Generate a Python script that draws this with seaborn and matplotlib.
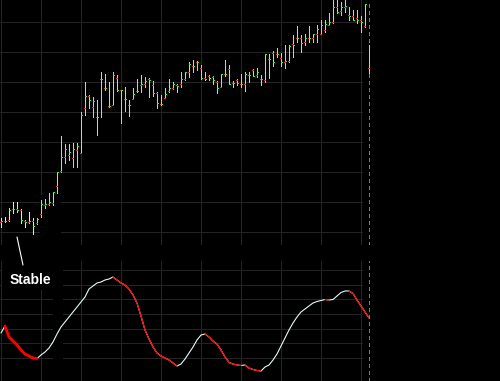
import numpy as np
import pandas as pd
import matplotlib
matplotlib.use("Agg")
import matplotlib.pyplot as plt
import seaborn as sns
from matplotlib.collections import LineCollection
from matplotlib.patches import Rectangle
from matplotlib.lines import Line2D

# ---------------- data ----------------
high = [22, 23, 32, 38, 38, 31, 20, 28, 22, 22,
        40, 41, 47, 48, 68, 104, 96, 96, 97, 97,
        128, 158, 145, 143, 140, 168, 166, 158, 168, 165,
        150, 153, 140, 152, 161, 165, 163, 162, 159, 148,
        145, 152, 161, 158, 156, 168, 168, 178, 180, 179,
        175, 168, 165, 164, 159, 166, 180, 175, 159, 161,
        166, 168, 168, 171, 172, 165, 186, 186, 189, 192,
        187, 195, 195, 205, 214, 205, 206, 214, 206, 215,
        220, 220, 227, 243, 243, 238, 243, 233, 230, 230,
        224, 236, 195]
low = [13, 18, 19, 27, 28, 17, 13, 17, 6, 16,
       23, 32, 35, 35, 47, 68, 77, 80, 73, 73,
       87, 125, 132, 123, 105, 123, 150, 133, 135, 149,
       117, 129, 124, 141, 148, 148, 153, 143, 144, 132,
       135, 142, 148, 151, 148, 153, 160, 163, 168, 170,
       161, 160, 160, 156, 147, 153, 164, 156, 153, 155,
       153, 149, 158, 164, 163, 155, 158, 162, 174, 183,
       174, 172, 178, 183, 198, 188, 195, 198, 198, 198,
       206, 208, 215, 217, 227, 225, 228, 220, 221, 217,
       208, 213, 167]
open_ = [18, 19, 20, 31, 31, 30, 19, 18, 19, 17,
         26, 35, 36, 37, 54, 69, 83, 85, 82, 90,
         87, 132, 144, 133, 123, 161, 152, 134, 135, 162,
         150, 141, 135, 141, 149, 155, 156, 161, 155, 147,
         136, 142, 149, 152, 155, 156, 161, 168, 174, 178,
         172, 162, 164, 163, 158, 153, 166, 171, 157, 160,
         156, 156, 165, 170, 165, 161, 160, 181, 187, 186,
         182, 178, 179, 196, 202, 202, 198, 202, 202, 206,
         206, 210, 215, 218, 233, 229, 233, 225, 224, 222,
         220, 214, 172]
close = [19, 19, 30, 31, 30, 20, 18, 19, 14, 21,
         36, 36, 38, 48, 68, 83, 91, 88, 91, 94,
         125, 144, 140, 139, 123, 161, 152, 134, 165, 150,
         150, 141, 135, 146, 149, 156, 159, 160, 147, 137,
         136, 146, 152, 156, 154, 161, 168, 176, 174, 178,
         162, 161, 162, 160, 152, 166, 166, 156, 157, 157,
         156, 166, 165, 164, 168, 161, 186, 181, 178, 186,
         178, 179, 194, 195, 202, 197, 202, 202, 206, 211,
         215, 216, 218, 233, 228, 233, 234, 224, 220, 220,
         218, 236, 168]
osc = [47, 54, 43, 39, 35, 30, 26, 24, 22, 21.5,
       25, 28, 32, 38, 46, 53, 58, 63, 68, 73,
       78, 83, 91, 94, 97, 98, 100, 101, 103, 100,
       97, 95, 91, 85, 77, 64, 50, 41, 33, 27,
       24, 22, 20, 17, 14, 16, 21, 27, 33, 40,
       45, 46, 43, 39, 36, 30, 23, 17.5, 16, 15,
       14.5, 15, 12, 10.5, 9.5, 9, 13, 15, 20, 26,
       34, 42, 50, 57, 63, 68, 71, 74, 77, 78.5,
       79.5, 80.5, 80, 80.5, 84, 87.5, 89, 89, 86.5, 80,
       74, 68, 62]
n_stable = 9          # first bars flagged as "Stable"
label_text = "Stable"

# ---------------- style ----------------
sns.set_style("dark", {"axes.facecolor": "black", "figure.facecolor": "black",
                       "axes.edgecolor": "black"})
plt.rcParams["font.family"] = ["Liberation Sans", "DejaVu Sans"]

W, H = 500, 381
fig = plt.figure(figsize=(W / 100, H / 100), dpi=100, facecolor="black")


def px_axes(top, bottom):
    return fig.add_axes([0, 1 - bottom / H, 1, (bottom - top) / H])


ax1 = px_axes(0, 245)
ax2 = px_axes(261, 381)
for ax in (ax1, ax2):
    ax.set_facecolor("black")
    ax.set_xlim(-0.25, 124.75)
    ax.set_xticks([])
    ax.set_yticks([])
    for s in ax.spines.values():
        s.set_visible(False)
ax1.set_ylim(-5, 240)
ax2.set_ylim(-1, 119)

x = np.arange(len(high))
n = len(high)
grid_c = "#242424"
lw1 = 0.72
xg = np.arange(0, 91, 10)

# grids
ax1.vlines(xg, -5, 240, color=grid_c, lw=lw1, zorder=0.5, antialiased=False)
ax1.hlines(np.arange(8, 219, 30), -0.25, 90.3, color=grid_c, lw=lw1, zorder=0.5,
           antialiased=False)
ax2.vlines(xg, -1, 119, color=grid_c, lw=lw1, zorder=0.5, antialiased=False)
ax2.hlines(np.linspace(22, 110, 7), -0.25, 90.3, color=grid_c, lw=lw1, zorder=0.5,
           antialiased=False)

# black label backgrounds hiding the grid
ax1.add_patch(Rectangle((9.8, -5), 5.2, 50, facecolor="black", edgecolor="none", zorder=1))
ax2.add_patch(Rectangle((0.25, 90), 15.25, 30, facecolor="black", edgecolor="none", zorder=1))
ax2.add_patch(Rectangle((13.0, 14), 2.5, 106, facecolor="black", edgecolor="none", zorder=1))

# current-bar dashed line
for ax, (y0, y1) in ((ax1, (-5, 240)), (ax2, (-1, 119))):
    ax.vlines([n - 1], y0, y1, color="#7a7a7a", lw=lw1, linestyles=(0, (4, 4)),
              zorder=1.5, antialiased=False)

# OHLC bars
bar_cols = ["#ffff00" if i < n_stable else "#cccccc" for i in x]
ax1.vlines(x, low, high, colors=bar_cols, lw=lw1, zorder=3, antialiased=False)
ax1.hlines(open_, x - 0.27, x - 0.06, color="#ff2020", lw=lw1, zorder=4,
           antialiased=False)
ax1.hlines(close[:-1], x[:-1] + 0.06, x[:-1] + 0.27, color="#20ff20", lw=lw1, zorder=4,
           antialiased=False)

# oscillator (white base line via seaborn, red falling segments on top)
df = pd.DataFrame({"bar": x, "osc": osc})
sns.lineplot(data=df, x="bar", y="osc", ax=ax2, color="#e4fafa", lw=0.8, zorder=3,
             legend=False)
ax2.set_xlabel("")
ax2.set_ylabel("")
segs, widths = [], []
state = False
for i in range(1, n):
    if osc[i] < osc[i - 1]:
        state = True
    elif osc[i] > osc[i - 1]:
        state = False
    if state:
        segs.append([(x[i - 1], osc[i - 1]), (x[i], osc[i])])
        widths.append(2.0 if i <= n_stable else 0.85)
ax2.add_collection(LineCollection(segs, colors="#ff0000", linewidths=widths, zorder=4,
                                  capstyle="round"))

# annotation
fig.add_artist(Line2D([17 / W, 23 / W], [1 - 237 / H, 1 - 265 / H], color="white",
                      lw=0.8, transform=fig.transFigure))
fig.text(10 / W, 1 - 284 / H, label_text, color="white", fontsize=10,
         fontweight="bold", ha="left", va="baseline")

fig.savefig("out.png", dpi=100, facecolor="black")
